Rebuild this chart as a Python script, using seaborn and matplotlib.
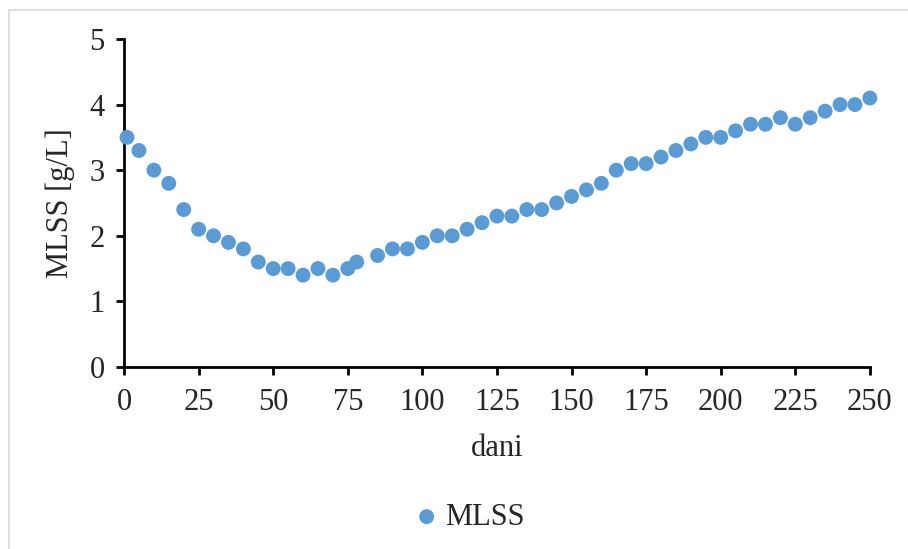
import matplotlib
matplotlib.use("Agg")
import matplotlib.pyplot as plt
import matplotlib.patches as patches
import pandas as pd
import seaborn as sns

# MLSS values
days = [1, 5, 10, 15, 20, 25, 30, 35, 40, 45, 50, 55, 60, 65, 70, 75, 78,
        85, 90, 95, 100, 105, 110, 115, 120, 125, 130, 135, 140, 145, 150,
        155, 160, 165, 170, 175, 180, 185, 190, 195, 200, 205, 210, 215,
        220, 225, 230, 235, 240, 245, 250]
mlss = [3.5, 3.3, 3.0, 2.8, 2.4, 2.1, 2.0, 1.9, 1.8, 1.6, 1.5, 1.5, 1.4, 1.5,
        1.4, 1.5, 1.6, 1.7, 1.8, 1.8, 1.9, 2.0, 2.0, 2.1, 2.2, 2.3, 2.3, 2.4,
        2.4, 2.5, 2.6, 2.7, 2.8, 3.0, 3.1, 3.1, 3.2, 3.3, 3.4, 3.5, 3.5, 3.6,
        3.7, 3.7, 3.8, 3.7, 3.8, 3.9, 4.0, 4.0, 4.1]
x_ticks = [0, 25, 50, 75, 100, 125, 150, 175, 200, 225, 250]
y_ticks = [0, 1, 2, 3, 4, 5]

df = pd.DataFrame({"dani": days, "MLSS": mlss})

sns.set_style("white")
plt.rcParams["font.family"] = ["Liberation Serif", "DejaVu Serif"]

fig = plt.figure(figsize=(9.08, 5.49), dpi=100)
ax = fig.add_axes([0.1366, 0.3315, 0.8214, 0.5975])

sns.scatterplot(data=df, x="dani", y="MLSS", ax=ax, color="#5B9BD5",
                s=115, edgecolor="none", label="MLSS", clip_on=False,
                zorder=3, legend=False)

ax.set_xlim(0, 250)
ax.set_ylim(0, 5)
ax.set_xticks(x_ticks)
ax.set_yticks(y_ticks)
ax.tick_params(axis="both", labelsize=22, direction="out", length=6, width=2,
               color="black", left=True, bottom=True)
ax.tick_params(axis="x", pad=9)
ax.tick_params(axis="y", pad=8)
for side in ["top", "right"]:
    ax.spines[side].set_visible(False)
for side in ["left", "bottom"]:
    ax.spines[side].set_linewidth(2)
    ax.spines[side].set_color("black")

ax.set_xlabel("dani", fontsize=22, labelpad=12)
ax.set_ylabel("MLSS [g/L]", fontsize=22, labelpad=10)

handles = ax.collections[:1]
fig.legend(handles, ["MLSS"], loc="center", bbox_to_anchor=(0.517, 0.058),
           frameon=False, fontsize=22, handlelength=0.8, handletextpad=0.2,
           markerscale=1.0)

# light frame around the chart area
fig.patches.append(patches.Rectangle((9 / 908, -0.1), 1.2, (539 / 549) + 0.1,
                                     transform=fig.transFigure, fill=False,
                                     edgecolor="#D9D9D9", linewidth=1.2))

fig.savefig("out.png", dpi=100)
